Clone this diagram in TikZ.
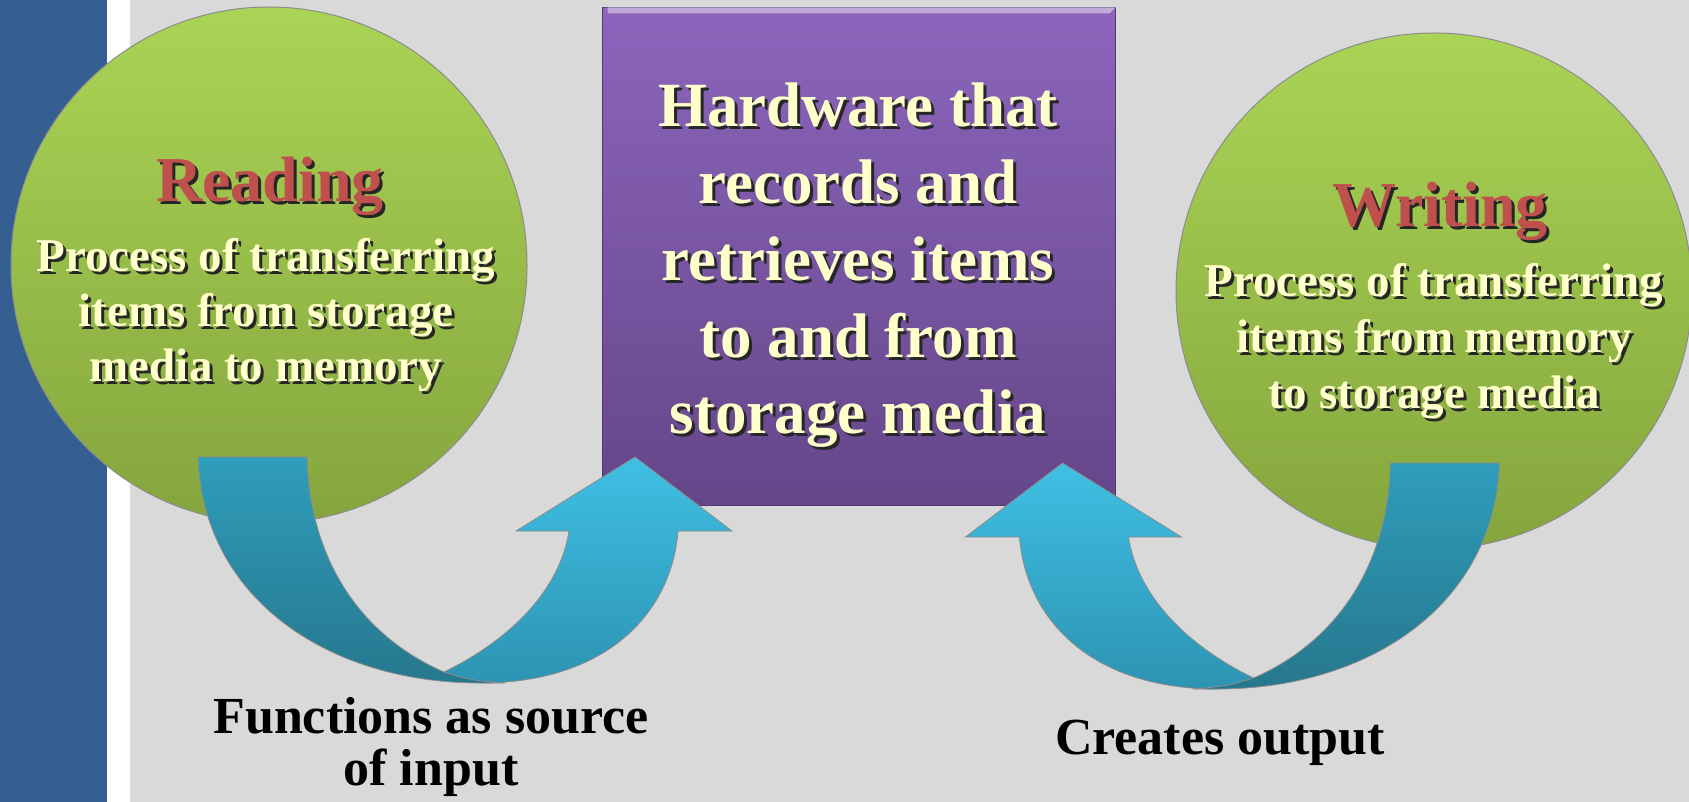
\documentclass[tikz,border=0pt]{standalone}
\usepackage{fontspec}
\setmainfont{Liberation Serif}

\definecolor{barblue}{HTML}{365F91}
\definecolor{slidegray}{HTML}{D9D9D9}
\definecolor{greentop}{HTML}{AAD455}
\definecolor{greenbot}{HTML}{84A53D}
\definecolor{purptop}{HTML}{8C65BC}
\definecolor{purpbot}{HTML}{654689}
\definecolor{headtop}{HTML}{3FC0E4}
\definecolor{headbot}{HTML}{2D93B2}
\definecolor{tailtop}{HTML}{2F9DBB}
\definecolor{tailbot}{HTML}{26778D}
\definecolor{titlered}{HTML}{C0504D}
\definecolor{paleyellow}{HTML}{FFFFCC}

% text with a dark drop shadow
\newcommand\shd[1]{\leavevmode\rlap{\kern3pt\raisebox{-3pt}{\color{black!85}#1}}#1}

\tikzset{
  disc/.style={circle,draw=black!45,line width=1pt,top color=greentop,bottom color=greenbot,minimum size=516pt,inner sep=0pt},
  hwbox/.style={rectangle,draw=purpbot!80!black,line width=1pt,top color=purptop,bottom color=purpbot,minimum width=513pt,minimum height=497pt},
  headline/.style={font=\bfseries\fontsize{64}{64}\selectfont,text=titlered},
  bodytext/.style={font=\bfseries\fontsize{47}{55}\selectfont,text=paleyellow,align=center},
  boxtext/.style={font=\bfseries\fontsize{63}{76.75}\selectfont,text=paleyellow,align=center},
  undertext/.style={font=\bfseries\fontsize{52}{52}\selectfont,align=center},
  headpart/.style={top color=headtop,bottom color=headbot,draw=black!45,line width=0.8pt},
  tailpart/.style={top color=tailtop,bottom color=tailbot,draw=black!45,line width=0.8pt}
}

\begin{document}
\begin{tikzpicture}[x=1pt,y=-1pt]
  \useasboundingbox (0,0) rectangle (1689,802);
  % slide background
  \fill[slidegray] (0,0) rectangle (1689,802);
  \fill[white] (107,0) rectangle (130,802);
  \fill[barblue] (0,0) rectangle (107,802);

  \node (readdisc) [disc] at (269,265) {};
  \node (writedisc) [disc] at (1434,291) {};
  \node (storage) [hwbox] at (858.5,256.5) {};
  % bevel along the top edge of the box
  \fill[purptop!55!white] (storage.north west) -- (storage.north east) -- ++(-6,6) -| ([xshift=6pt]storage.north west) -- cycle;

  \node (readtitle) [headline,anchor=base] at (270,202) {\shd{Reading}};
  \node (readtext) [bodytext] at (266,317) {\shd{Process of transferring}\\\shd{items from storage}\\\shd{media to memory}};
  \node (writetitle) [headline,anchor=base] at (1440,227) {\shd{Writing}};
  \node (writetext) [bodytext,font=\bfseries\fontsize{47}{56}\selectfont] at (1434,343) {\shd{Process of transferring}\\\shd{items from memory}\\\shd{to storage media}};
  \node (hwtext) [boxtext] at (858,267) {\shd{Hardware that}\\\shd{records and}\\\shd{retrieves items}\\\shd{to and from}\\\shd{storage media}};

  % curved arrow, reading -> storage
  \draw[headpart] (480,683) .. controls (610,683) and (672,610) .. (678,531)
    -- (732,531) -- (635,457) -- (516,531) -- (569,531)
    .. controls (560,590) and (510,640) .. (444,672) -- cycle;
  \draw[tailpart] (198,457) -- (307,457) .. controls (310,570) and (370,640) .. (444,672)
    .. controls (470,680) .. (505,683) -- (480,683) .. controls (330,683) and (203,600) .. cycle;

  % same arrow mirrored, writing -> storage
  \begin{scope}[xshift=1697.5pt,yshift=-6pt,xscale=-1]
    \draw[headpart] (480,683) .. controls (610,683) and (672,610) .. (678,531)
      -- (732,531) -- (635,457) -- (516,531) -- (569,531)
      .. controls (560,590) and (510,640) .. (444,672) -- cycle;
    \draw[tailpart] (198,457) -- (307,457) .. controls (310,570) and (370,640) .. (444,672)
      .. controls (470,680) .. (505,683) -- (480,683) .. controls (330,683) and (203,600) .. cycle;
  \end{scope}

  \node (inputlbl) [undertext] at (431,747) {Functions as source\\of input};
  \node (outputlbl) [undertext,anchor=base] at (1220,754) {Creates output};
\end{tikzpicture}
\end{document}
